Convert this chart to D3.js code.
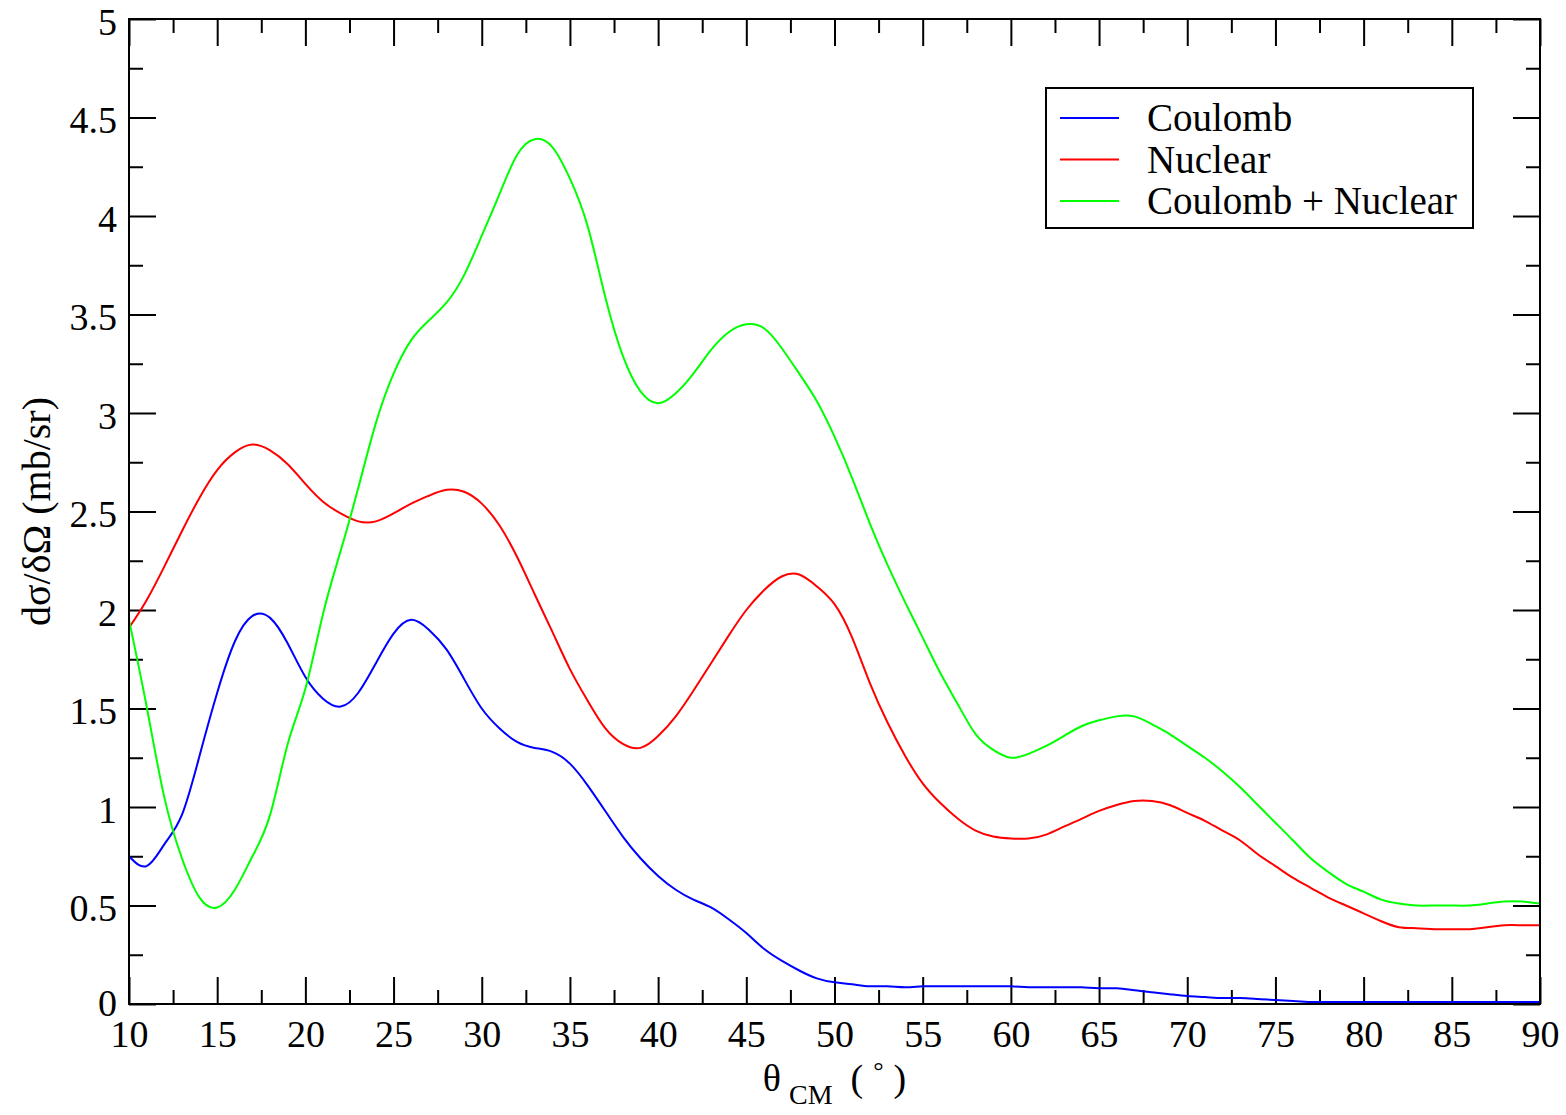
<!DOCTYPE html>
<html>
<head>
<meta charset="utf-8">
<script src="https://cdn.jsdelivr.net/npm/d3@7"></script>
<style>
  html, body { margin: 0; padding: 0; background: #fff; }
  svg { display: block; }
  text { font-family: "Liberation Serif", "Times New Roman", serif; fill: #000; }
</style>
</head>
<body>
<svg id="chart" width="1566" height="1115"></svg>
<script>
// Scattering angle in the centre-of-mass frame (degrees)
const theta = [10,11,12,13,14,15,16,17,18,19,20,21,22,23,24,25,26,27,28,29,30,
  31,32,33,34,35,36,37,38,39,40,41,42,43,44,45,46,47,48,49,50,
  51,52,53,54,55,56,57,58,59,60,61,62,63,64,65,66,67,68,69,70,
  71,72,73,74,75,76,77,78,79,80,81,82,83,84,85,86,87,88,89,90];

// Differential cross sections dσ/dΩ (mb/sr)
const coulomb = [0.75,0.70,0.81,0.96,1.26,1.58,1.84,1.97,1.96,1.83,1.66,
  1.55,1.51,1.58,1.73,1.88,1.95,1.90,1.80,1.65,1.50,
  1.40,1.33,1.30,1.28,1.22,1.11,0.98,0.85,0.74,0.65,
  0.58,0.53,0.49,0.43,0.36,0.28,0.22,0.17,0.13,0.11,
  0.10,0.09,0.09,0.085,0.09,0.09,0.09,0.09,0.09,0.09,
  0.085,0.085,0.085,0.085,0.08,0.08,0.07,0.06,0.05,0.04,
  0.035,0.03,0.03,0.025,0.02,0.015,0.01,0.01,0.01,0.01,
  0.01,0.01,0.01,0.01,0.01,0.01,0.01,0.01,0.01,0.01];

const nuclear = [1.91,2.05,2.22,2.40,2.57,2.71,2.80,2.84,2.81,2.74,2.64,
  2.55,2.49,2.45,2.45,2.49,2.54,2.58,2.61,2.60,2.54,
  2.43,2.27,2.08,1.89,1.70,1.54,1.40,1.32,1.30,1.36,
  1.46,1.59,1.73,1.87,2.00,2.10,2.17,2.18,2.12,2.03,
  1.86,1.63,1.43,1.26,1.12,1.02,0.94,0.88,0.85,0.84,
  0.84,0.86,0.90,0.94,0.98,1.01,1.03,1.03,1.01,0.97,
  0.93,0.88,0.83,0.76,0.70,0.64,0.59,0.54,0.50,0.46,
  0.42,0.39,0.385,0.38,0.38,0.38,0.39,0.40,0.40,0.40];

const combined = [1.95,1.51,1.05,0.74,0.54,0.49,0.58,0.75,0.96,1.32,1.60,
  1.98,2.30,2.62,2.95,3.20,3.37,3.47,3.56,3.70,3.90,
  4.11,4.31,4.39,4.35,4.19,3.95,3.59,3.29,3.11,3.05,
  3.10,3.20,3.32,3.41,3.45,3.43,3.33,3.20,3.06,2.88,
  2.67,2.44,2.23,2.04,1.86,1.68,1.52,1.37,1.29,1.25,
  1.27,1.31,1.36,1.41,1.44,1.46,1.46,1.42,1.37,1.31,
  1.25,1.18,1.10,1.01,0.92,0.83,0.74,0.67,0.61,0.57,
  0.53,0.51,0.50,0.50,0.50,0.50,0.51,0.52,0.52,0.51];

const seriesNames = ["Coulomb", "Nuclear", "Coulomb + Nuclear"];
const seriesColors = ["#0000ff", "#ff0000", "#00ff00"];

const xMajorTicks = [10,15,20,25,30,35,40,45,50,55,60,65,70,75,80,85,90];
const xMinorTicks = [12.5,17.5,22.5,27.5,32.5,37.5,42.5,47.5,52.5,57.5,62.5,67.5,72.5,77.5,82.5,87.5];
const yMajorTicks = [0,0.5,1,1.5,2,2.5,3,3.5,4,4.5,5];
const yMinorTicks = [0.25,0.75,1.25,1.75,2.25,2.75,3.25,3.75,4.25,4.75];

const margin = { top: 19, right: 26, bottom: 111, left: 129 };
const W = 1566, H = 1115;
const w = W - margin.left - margin.right;
const h = H - margin.top - margin.bottom;

const svg = d3.select("#chart");
const g = svg.append("g").attr("transform", `translate(${margin.left},${margin.top})`);

const x = d3.scaleLinear().domain([10, 90]).range([0, w]);
const y = d3.scaleLinear().domain([0, 5]).range([h, 0]);

const MAJ = 27, MIN = 14, FS = 38;
const fmt = d => String(d);

function styleAxis(sel) {
  sel.select(".domain").remove();
  sel.selectAll(".tick line").attr("stroke", "#000").attr("stroke-width", 2);
  sel.selectAll("text").style("font-size", FS + "px").attr("fill", "#000")
     .style("font-family", '"Liberation Serif", serif');
}

// bottom axis: major ticks with labels, minor ticks without
g.append("g").attr("transform", `translate(0,${h})`)
  .call(d3.axisBottom(x).tickValues(xMajorTicks).tickFormat(fmt).tickSizeInner(-MAJ).tickSizeOuter(0).tickPadding(16))
  .call(styleAxis);
g.append("g").attr("transform", `translate(0,${h})`)
  .call(d3.axisBottom(x).tickValues(xMinorTicks).tickFormat("").tickSizeInner(-MIN).tickSizeOuter(0))
  .call(styleAxis);
// top axis (mirror)
g.append("g")
  .call(d3.axisTop(x).tickValues(xMajorTicks).tickFormat("").tickSizeInner(-MAJ).tickSizeOuter(0))
  .call(styleAxis);
g.append("g")
  .call(d3.axisTop(x).tickValues(xMinorTicks).tickFormat("").tickSizeInner(-MIN).tickSizeOuter(0))
  .call(styleAxis);
// left axis
g.append("g")
  .call(d3.axisLeft(y).tickValues(yMajorTicks).tickFormat(fmt).tickSizeInner(-MAJ).tickSizeOuter(0).tickPadding(12))
  .call(styleAxis)
  .call(s => s.selectAll("text").attr("dy", d => d === 0 ? "0.3em" : "0.4em"));
g.append("g")
  .call(d3.axisLeft(y).tickValues(yMinorTicks).tickFormat("").tickSizeInner(-MIN).tickSizeOuter(0))
  .call(styleAxis);
// right axis (mirror)
g.append("g").attr("transform", `translate(${w},0)`)
  .call(d3.axisRight(y).tickValues(yMajorTicks).tickFormat("").tickSizeInner(-MAJ).tickSizeOuter(0))
  .call(styleAxis);
g.append("g").attr("transform", `translate(${w},0)`)
  .call(d3.axisRight(y).tickValues(yMinorTicks).tickFormat("").tickSizeInner(-MIN).tickSizeOuter(0))
  .call(styleAxis);

// curves
const seriesData = [coulomb, nuclear, combined];
const line = d3.line()
  .x((d, i) => x(theta[i]))
  .y(d => y(d))
  .curve(d3.curveNatural);

seriesData.forEach((vals, k) => {
  g.append("path")
    .datum(vals)
    .attr("d", line)
    .attr("fill", "none")
    .attr("stroke", seriesColors[k])
    .attr("stroke-width", 2);
});

// frame
g.append("rect").attr("x", 0).attr("y", 0).attr("width", w).attr("height", h)
  .attr("fill", "none").attr("stroke", "#000").attr("stroke-width", 2);

// legend
const lg = svg.append("g").attr("transform", "translate(1046,88)");
lg.append("rect").attr("width", 427).attr("height", 140)
  .attr("fill", "#fff").attr("stroke", "#000").attr("stroke-width", 2);
seriesNames.forEach((name, k) => {
  const yy = 30 + k * 41.5;
  lg.append("line").attr("x1", 14).attr("x2", 73).attr("y1", yy).attr("y2", yy)
    .attr("stroke", seriesColors[k]).attr("stroke-width", 2);
  lg.append("text").attr("x", 101).attr("y", yy + 13)
    .style("font-size", "39px").text(name);
});

// axis titles
const xt = svg.append("text")
  .attr("x", margin.left + w / 2).attr("y", 1091)
  .attr("text-anchor", "middle")
  .style("font-size", "38px");
xt.append("tspan").text("θ");
xt.append("tspan").attr("dx", 8).attr("dy", 13).style("font-size", "28px").text("CM");
xt.append("tspan").attr("dx", 18).attr("dy", -13).text("(");
xt.append("tspan").attr("dx", 10).attr("dy", -12).style("font-size", "26px").text("°");
xt.append("tspan").attr("dx", 10).attr("dy", 12).text(")");

svg.append("text")
  .attr("transform", `translate(50,${margin.top + h / 2}) rotate(-90)`)
  .attr("text-anchor", "middle")
  .style("font-size", "40px")
  .text("dσ/δΩ (mb/sr)");
</script>
</body>
</html>
